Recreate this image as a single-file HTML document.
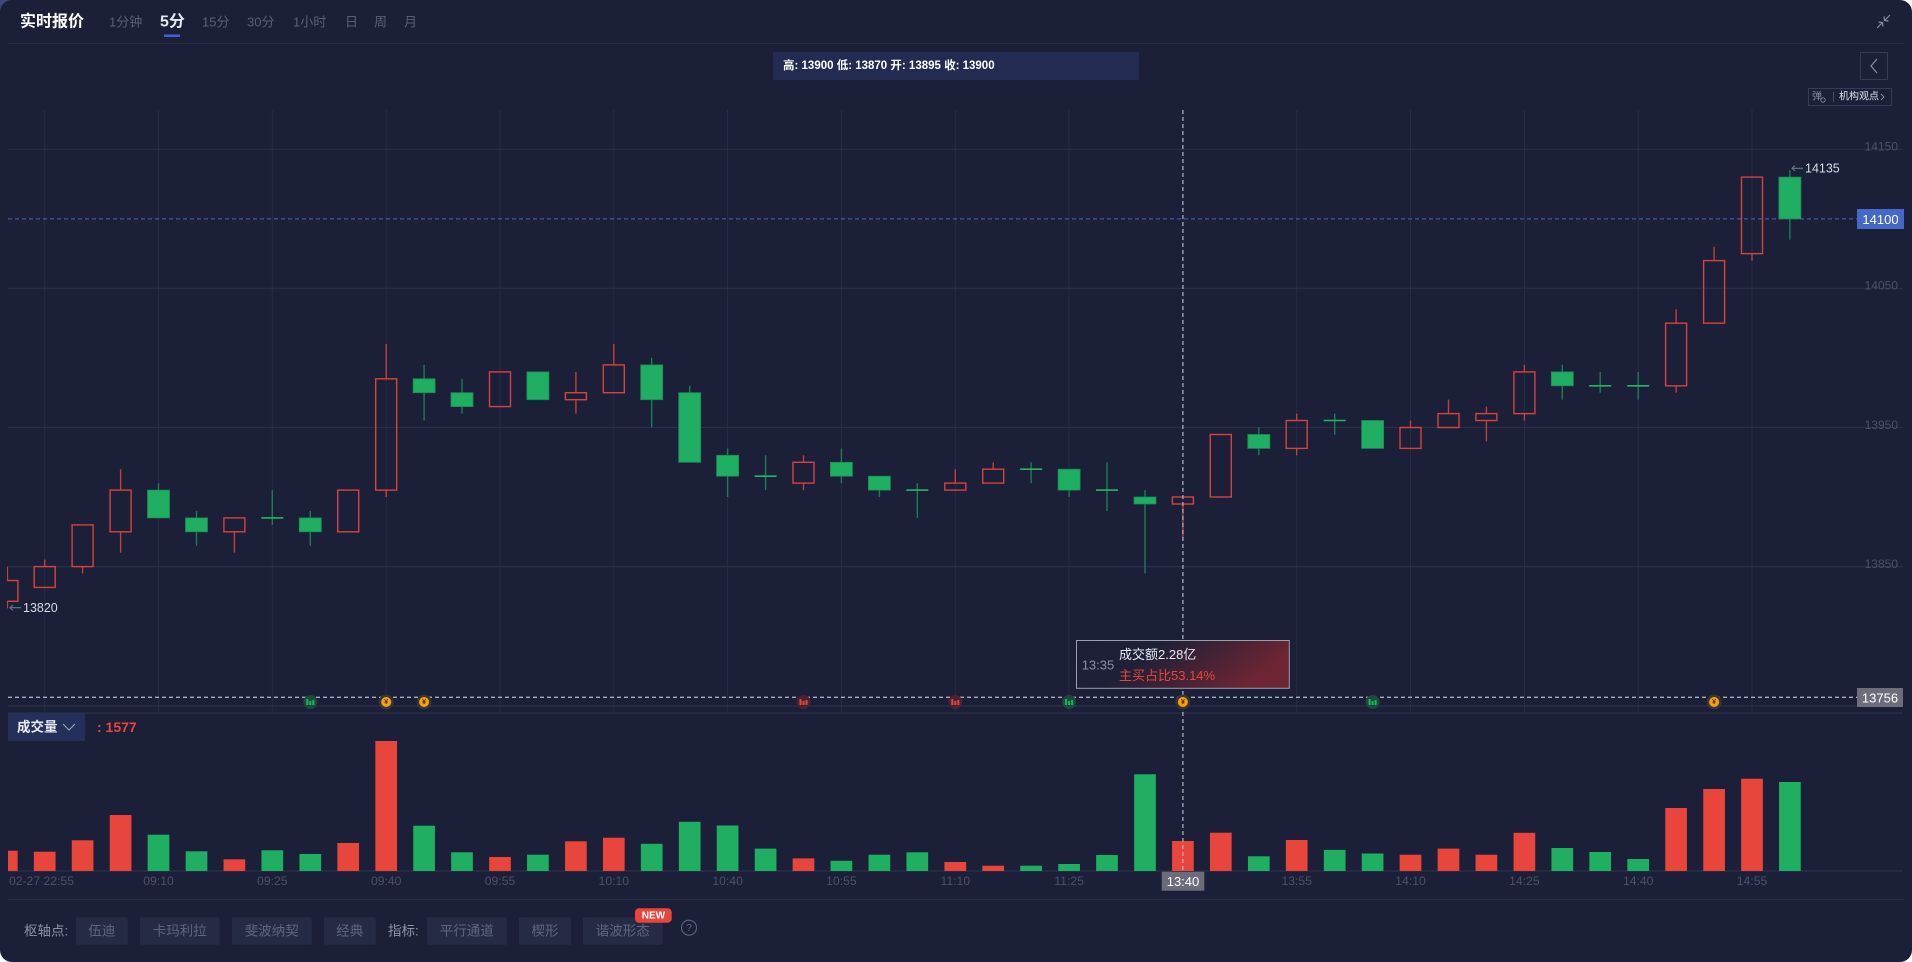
<!DOCTYPE html>
<html><head><meta charset="utf-8"><style>
html,body{margin:0;padding:0;background:#ffffff;}
body{width:1912px;height:962px;overflow:hidden;position:relative;}
.corner{position:absolute;left:0;top:0;width:40px;height:14px;background:#3d4a76;}
.panel{position:absolute;left:0;top:0;width:1912px;height:962px;background:#1b1f37;border-radius:12px;overflow:hidden;}
svg{position:absolute;left:0;top:0;}
text{font-family:"Liberation Sans","Noto Sans CJK SC",sans-serif;}
</style></head><body>
<div class="corner"></div>
<div class="panel">
<svg width="1912" height="962" viewBox="0 0 1912 962" xmlns="http://www.w3.org/2000/svg">
<defs>
<clipPath id="cm"><rect x="7" y="108" width="1850" height="606"/></clipPath>
<clipPath id="cv"><rect x="8" y="714" width="1850" height="158"/></clipPath>
<clipPath id="cx"><rect x="8" y="872" width="1900" height="20"/></clipPath>
<linearGradient id="tg" x1="0" y1="0" x2="1" y2="0.3">
<stop offset="0" stop-color="#1c1f37"/><stop offset="0.38" stop-color="#1e2037"/><stop offset="1" stop-color="#6e2533"/>
</linearGradient>
</defs>

<!-- header -->
<text x="20" y="22" dominant-baseline="central" font-size="16" font-weight="bold" fill="#ffffff">实时报价</text>
<g font-size="13" fill="#5a5f78" dominant-baseline="central">
<text x="109" y="22">1分钟</text>
<text x="202" y="22">15分</text>
<text x="247" y="22">30分</text>
<text x="293" y="22">1小时</text>
<text x="345" y="22">日</text>
<text x="374" y="22">周</text>
<text x="404" y="22">月</text>
</g>
<text x="160" y="22" dominant-baseline="central" font-size="16" font-weight="bold" fill="#e6e9f2">5分</text>
<rect x="164" y="34.5" width="16" height="2.5" fill="#3c63d4"/>
<line x1="8" y1="43.5" x2="1904" y2="43.5" stroke="#252a43" stroke-width="1"/>
<!-- collapse icon -->
<g stroke="#8a8ea0" stroke-width="1.2" fill="none">
<line x1="1890" y1="15" x2="1885" y2="20"/><polyline points="1884,16.5 1884.5,20.5 1888.5,21"/>
<line x1="1877" y1="28" x2="1882" y2="23"/><polyline points="1878.5,22 1882.5,22.5 1883,26.5"/>
</g>

<!-- OHLC box -->
<rect x="773" y="52" width="366" height="28" fill="#232b52"/>
<text x="783" y="66" dominant-baseline="central" font-size="11.5" font-weight="bold" fill="#ffffff">高: 13900 低: 13870 开: 13895 收: 13900</text>

<!-- right top buttons -->
<rect x="1860.5" y="52.5" width="27" height="27" fill="none" stroke="#363b56"/>
<polyline points="1877,59 1871,66 1877,73" fill="none" stroke="#8a8ea0" stroke-width="1.2"/>
<rect x="1808.5" y="88.5" width="83" height="17" fill="none" stroke="#363b56"/>
<text x="1812" y="97" dominant-baseline="central" font-size="10" fill="#8a8ea0">弹</text>
<circle cx="1823" cy="100" r="2.2" fill="none" stroke="#8a8ea0" stroke-width="0.8"/>
<line x1="1833.5" y1="92" x2="1833.5" y2="102" stroke="#4a4f68"/>
<text x="1839" y="97" dominant-baseline="central" font-size="10" fill="#e0e3ee">机构观点</text>
<polyline points="1881,94 1884,97 1881,100" fill="none" stroke="#8a8ea0" stroke-width="0.9"/>

<!-- grid -->
<g stroke="#272c45" stroke-width="1">
<line x1="44.7" y1="110" x2="44.7" y2="713"/>
<line x1="158.5" y1="110" x2="158.5" y2="713"/>
<line x1="272.3" y1="110" x2="272.3" y2="713"/>
<line x1="386.2" y1="110" x2="386.2" y2="713"/>
<line x1="500" y1="110" x2="500" y2="713"/>
<line x1="613.8" y1="110" x2="613.8" y2="713"/>
<line x1="727.6" y1="110" x2="727.6" y2="713"/>
<line x1="841.4" y1="110" x2="841.4" y2="713"/>
<line x1="955.3" y1="110" x2="955.3" y2="713"/>
<line x1="1069.1" y1="110" x2="1069.1" y2="713"/>
<line x1="1182.9" y1="110" x2="1182.9" y2="713"/>
<line x1="1296.7" y1="110" x2="1296.7" y2="713"/>
<line x1="1410.5" y1="110" x2="1410.5" y2="713"/>
<line x1="1524.4" y1="110" x2="1524.4" y2="713"/>
<line x1="1638.2" y1="110" x2="1638.2" y2="713"/>
<line x1="1752" y1="110" x2="1752" y2="713"/>
</g>
<g stroke="#2b3049" stroke-width="1.2">
<line x1="8" y1="149.3" x2="1903" y2="149.3"/>
<line x1="8" y1="288.3" x2="1903" y2="288.3"/>
<line x1="8" y1="427.5" x2="1903" y2="427.5"/>
<line x1="8" y1="566.6" x2="1903" y2="566.6"/>
<line x1="8" y1="706" x2="1857" y2="706"/>
<line x1="8" y1="713" x2="1903" y2="713"/>
<line x1="8" y1="871" x2="1903" y2="871"/>
<line x1="8" y1="899.3" x2="1904" y2="899.3"/>
</g>
<g font-size="12" fill="#4c5169" text-anchor="end" dominant-baseline="central">
<text x="1898" y="146.7">14150</text>
<text x="1898" y="285.7">14050</text>
<text x="1898" y="425">13950</text>
<text x="1898" y="564">13850</text>
</g>

<!-- current price line -->
<line x1="8" y1="218.9" x2="1857" y2="218.9" stroke="#3d5aa8" stroke-width="1.2" stroke-dasharray="4 3"/>

<!-- candles -->
<g clip-path="url(#cm)">
<g stroke="#c13f3d" stroke-width="1.4">
<line x1="7.4" y1="566.6" x2="7.4" y2="580.5"/><line x1="7.4" y1="601.3" x2="7.4" y2="608.3"/>
<line x1="44.7" y1="559.6" x2="44.7" y2="566.6"/>
<line x1="82.6" y1="566.6" x2="82.6" y2="573.5"/>
<line x1="120.6" y1="469.2" x2="120.6" y2="490.1"/><line x1="120.6" y1="531.8" x2="120.6" y2="552.7"/>
<line x1="234.4" y1="531.8" x2="234.4" y2="552.7"/>
<line x1="386.2" y1="344" x2="386.2" y2="378.8"/><line x1="386.2" y1="490.1" x2="386.2" y2="497"/>
<line x1="575.9" y1="371.9" x2="575.9" y2="392.7"/><line x1="575.9" y1="399.7" x2="575.9" y2="413.6"/>
<line x1="613.8" y1="344" x2="613.8" y2="364.9"/>
<line x1="803.5" y1="455.3" x2="803.5" y2="462.3"/><line x1="803.5" y1="483.1" x2="803.5" y2="490.1"/>
<line x1="955.3" y1="469.2" x2="955.3" y2="483.1"/>
<line x1="993.2" y1="462.3" x2="993.2" y2="469.2"/>
<line x1="1182.9" y1="504" x2="1182.9" y2="538.8"/>
<line x1="1296.7" y1="413.6" x2="1296.7" y2="420.5"/><line x1="1296.7" y1="448.4" x2="1296.7" y2="455.3"/>
<line x1="1410.5" y1="420.5" x2="1410.5" y2="427.5"/>
<line x1="1448.5" y1="399.7" x2="1448.5" y2="413.6"/>
<line x1="1486.4" y1="406.6" x2="1486.4" y2="413.6"/><line x1="1486.4" y1="420.5" x2="1486.4" y2="441.4"/>
<line x1="1524.4" y1="364.9" x2="1524.4" y2="371.9"/><line x1="1524.4" y1="413.6" x2="1524.4" y2="420.5"/>
<line x1="1676.1" y1="309.3" x2="1676.1" y2="323.2"/><line x1="1676.1" y1="385.8" x2="1676.1" y2="392.7"/>
<line x1="1714.1" y1="246.7" x2="1714.1" y2="260.6"/>
<line x1="1752" y1="253.6" x2="1752" y2="260.6"/>
</g>
<g fill="none" stroke="#d3443f" stroke-width="1.4">
<rect x="-3.1" y="580.5" width="21" height="20.8"/>
<rect x="34.2" y="566.6" width="21" height="20.8"/>
<rect x="72.1" y="524.9" width="21" height="41.7"/>
<rect x="110.1" y="490.1" width="21" height="41.7"/>
<rect x="223.9" y="517.9" width="21" height="13.9"/>
<rect x="337.7" y="490.1" width="21" height="41.7"/>
<rect x="375.7" y="378.8" width="21" height="111.3"/>
<rect x="489.5" y="371.9" width="21" height="34.7"/>
<rect x="565.4" y="392.7" width="21" height="7"/>
<rect x="603.3" y="364.9" width="21" height="27.8"/>
<rect x="793" y="462.3" width="21" height="20.8"/>
<rect x="944.8" y="483.1" width="21" height="7"/>
<rect x="982.7" y="469.2" width="21" height="13.9"/>
<rect x="1172.4" y="497" width="21" height="7"/>
<rect x="1210.3" y="434.5" width="21" height="62.5"/>
<rect x="1286.2" y="420.5" width="21" height="27.9"/>
<rect x="1400" y="427.5" width="21" height="20.9"/>
<rect x="1438" y="413.6" width="21" height="13.9"/>
<rect x="1475.9" y="413.6" width="21" height="6.9"/>
<rect x="1513.9" y="371.9" width="21" height="41.7"/>
<rect x="1665.6" y="323.2" width="21" height="62.6"/>
<rect x="1703.6" y="260.6" width="21" height="62.6"/>
<rect x="1741.5" y="177.1" width="21" height="76.5"/>
</g>
<g stroke="#1d7d53" stroke-width="1.4">
<line x1="158.5" y1="483.1" x2="158.5" y2="517.9"/>
<line x1="196.5" y1="511" x2="196.5" y2="545.7"/>
<line x1="272.3" y1="490.1" x2="272.3" y2="524.9"/>
<line x1="310.3" y1="511" x2="310.3" y2="545.7"/>
<line x1="424.1" y1="364.9" x2="424.1" y2="420.5"/>
<line x1="462" y1="378.8" x2="462" y2="413.6"/>
<line x1="651.7" y1="357.9" x2="651.7" y2="427.5"/>
<line x1="689.7" y1="385.8" x2="689.7" y2="462.3"/>
<line x1="727.6" y1="448.4" x2="727.6" y2="497"/>
<line x1="765.6" y1="455.3" x2="765.6" y2="490.1"/>
<line x1="841.4" y1="448.4" x2="841.4" y2="483.1"/>
<line x1="879.4" y1="476.2" x2="879.4" y2="497"/>
<line x1="917.3" y1="483.1" x2="917.3" y2="517.9"/>
<line x1="1031.1" y1="462.3" x2="1031.1" y2="483.1"/>
<line x1="1069.1" y1="469.2" x2="1069.1" y2="497"/>
<line x1="1107" y1="462.3" x2="1107" y2="511"/>
<line x1="1145" y1="490.1" x2="1145" y2="573.5"/>
<line x1="1258.8" y1="427.5" x2="1258.8" y2="455.3"/>
<line x1="1334.7" y1="413.6" x2="1334.7" y2="434.5"/>
<line x1="1562.3" y1="364.9" x2="1562.3" y2="399.7"/>
<line x1="1600.2" y1="371.9" x2="1600.2" y2="392.7"/>
<line x1="1638.2" y1="371.9" x2="1638.2" y2="399.7"/>
<line x1="1789.9" y1="170.2" x2="1789.9" y2="239.7"/>
</g>
<g fill="#1fae62" stroke="#1c8a55" stroke-width="0.8">
<rect x="147.5" y="490.1" width="22" height="27.8"/>
<rect x="185.5" y="517.9" width="22" height="13.9"/>
<rect x="299.3" y="517.9" width="22" height="13.9"/>
<rect x="413.1" y="378.8" width="22" height="13.9"/>
<rect x="451" y="392.7" width="22" height="13.9"/>
<rect x="526.9" y="371.9" width="22" height="27.8"/>
<rect x="640.7" y="364.9" width="22" height="34.8"/>
<rect x="678.7" y="392.7" width="22" height="69.6"/>
<rect x="716.6" y="455.3" width="22" height="20.9"/>
<rect x="830.4" y="462.3" width="22" height="13.9"/>
<rect x="868.4" y="476.2" width="22" height="13.9"/>
<rect x="1058.1" y="469.2" width="22" height="20.9"/>
<rect x="1134" y="497" width="22" height="7"/>
<rect x="1247.8" y="434.5" width="22" height="13.9"/>
<rect x="1361.6" y="420.5" width="22" height="27.9"/>
<rect x="1551.3" y="371.9" width="22" height="13.9"/>
<rect x="1778.9" y="177.1" width="22" height="41.8"/>
</g>
<g stroke="#22b566" stroke-width="1.6">
<line x1="261.3" y1="517.9" x2="283.3" y2="517.9"/>
<line x1="754.6" y1="476.2" x2="776.6" y2="476.2"/>
<line x1="906.3" y1="490.1" x2="928.3" y2="490.1"/>
<line x1="1020.1" y1="469.2" x2="1042.1" y2="469.2"/>
<line x1="1096" y1="490.1" x2="1118" y2="490.1"/>
<line x1="1323.7" y1="420.5" x2="1345.7" y2="420.5"/>
<line x1="1589.2" y1="385.8" x2="1611.2" y2="385.8"/>
<line x1="1627.2" y1="385.8" x2="1649.2" y2="385.8"/>
</g>
</g>

<!-- extreme labels -->
<g stroke="#6f7590" stroke-width="1.1" fill="none">
<line x1="10" y1="607.7" x2="21" y2="607.7"/><polyline points="13,605 10,607.7 13,610.4"/>
<line x1="1792" y1="168.3" x2="1803" y2="168.3"/><polyline points="1795,165.6 1792,168.3 1795,171"/>
</g>
<text x="23" y="608" dominant-baseline="central" font-size="12.5" fill="#d8dbe5">13820</text>
<text x="1805" y="168.5" dominant-baseline="central" font-size="12.5" fill="#d8dbe5">14135</text>

<!-- price labels -->
<rect x="1857" y="209" width="47" height="20" fill="#4467c8"/>
<text x="1880.5" y="219.3" text-anchor="middle" dominant-baseline="central" font-size="13" fill="#ffffff">14100</text>

<!-- crosshair horizontal -->
<line x1="8" y1="697.3" x2="1857" y2="697.3" stroke="#a9acb9" stroke-width="1.3" stroke-dasharray="4 3"/>
<rect x="1857" y="688" width="46" height="19" fill="#6b6e7a"/>
<text x="1880" y="697.8" text-anchor="middle" dominant-baseline="central" font-size="13" fill="#ffffff">13756</text>

<!-- volume legend -->
<rect x="8" y="713" width="77" height="28" fill="#25305a"/>
<text x="17" y="727" dominant-baseline="central" font-size="13.5" font-weight="bold" fill="#e8eaf2">成交量</text>
<polyline points="63,724 69,730 75,724" fill="none" stroke="#a0a4b8" stroke-width="1.1"/>
<text x="97" y="727" dominant-baseline="central" font-size="14" font-weight="bold" fill="#e8453c">: 1577</text>

<!-- volume bars -->
<g clip-path="url(#cv)">
<g fill="#e8453c">
<rect x="-4.05" y="850.7" width="21.7" height="20.3"/>
<rect x="33.85" y="851.7" width="21.7" height="19.3"/>
<rect x="71.75" y="840.3" width="21.7" height="30.7"/>
<rect x="109.75" y="815" width="21.7" height="56"/>
<rect x="223.55" y="859.3" width="21.7" height="11.7"/>
<rect x="337.35" y="843" width="21.7" height="28"/>
<rect x="375.35" y="741" width="21.7" height="130"/>
<rect x="489.15" y="857" width="21.7" height="14"/>
<rect x="565.05" y="841.3" width="21.7" height="29.7"/>
<rect x="602.95" y="837.7" width="21.7" height="33.3"/>
<rect x="792.65" y="858.4" width="21.7" height="12.6"/>
<rect x="944.45" y="862" width="21.7" height="9"/>
<rect x="982.35" y="865.7" width="21.7" height="5.3"/>
<rect x="1172.05" y="841" width="21.7" height="30"/>
<rect x="1209.95" y="832.7" width="21.7" height="38.3"/>
<rect x="1285.85" y="840" width="21.7" height="31"/>
<rect x="1399.65" y="854.7" width="21.7" height="16.3"/>
<rect x="1437.65" y="848.6" width="21.7" height="22.4"/>
<rect x="1475.55" y="854.7" width="21.7" height="16.3"/>
<rect x="1513.55" y="832.8" width="21.7" height="38.2"/>
<rect x="1665.25" y="808" width="21.7" height="63"/>
<rect x="1703.25" y="789" width="21.7" height="82"/>
<rect x="1741.15" y="778.7" width="21.7" height="92.3"/>
</g>
<g fill="#1fae62">
<rect x="147.65" y="834.7" width="21.7" height="36.3"/>
<rect x="185.65" y="851.3" width="21.7" height="19.7"/>
<rect x="261.45" y="850.3" width="21.7" height="20.7"/>
<rect x="299.45" y="854" width="21.7" height="17"/>
<rect x="413.25" y="825.7" width="21.7" height="45.3"/>
<rect x="451.15" y="852.3" width="21.7" height="18.7"/>
<rect x="527.05" y="854.7" width="21.7" height="16.3"/>
<rect x="640.85" y="843.8" width="21.7" height="27.2"/>
<rect x="678.85" y="821.8" width="21.7" height="49.2"/>
<rect x="716.75" y="825.5" width="21.7" height="45.5"/>
<rect x="754.75" y="848.6" width="21.7" height="22.4"/>
<rect x="830.55" y="860.8" width="21.7" height="10.2"/>
<rect x="868.55" y="854.7" width="21.7" height="16.3"/>
<rect x="906.45" y="852.3" width="21.7" height="18.7"/>
<rect x="1020.25" y="865.7" width="21.7" height="5.3"/>
<rect x="1058.25" y="864" width="21.7" height="7"/>
<rect x="1096.15" y="855" width="21.7" height="16"/>
<rect x="1134.15" y="774.3" width="21.7" height="96.7"/>
<rect x="1247.95" y="856.3" width="21.7" height="14.7"/>
<rect x="1323.85" y="849.9" width="21.7" height="21.1"/>
<rect x="1361.75" y="853.5" width="21.7" height="17.5"/>
<rect x="1551.45" y="848" width="21.7" height="23"/>
<rect x="1589.35" y="852" width="21.7" height="19"/>
<rect x="1627.35" y="859" width="21.7" height="12"/>
<rect x="1779.05" y="782" width="21.7" height="89"/>
</g>
</g>

<!-- crosshair vertical -->
<line x1="1182.9" y1="110" x2="1182.9" y2="872" stroke="#a9acb9" stroke-width="1.3" stroke-dasharray="4 3"/>

<!-- markers -->
<g>
<circle cx="310.3" cy="702" r="7" fill="#1c4a3d"/><rect x="306.3" y="699" width="2" height="6" fill="#1fb35f"/><rect x="309.3" y="701" width="2" height="4" fill="#1fb35f"/><rect x="312.3" y="700" width="2" height="5" fill="#1fb35f"/>
<circle cx="1069.1" cy="702" r="7" fill="#1c4a3d"/><rect x="1065.1" y="699" width="2" height="6" fill="#1fb35f"/><rect x="1068.1" y="701" width="2" height="4" fill="#1fb35f"/><rect x="1071.1" y="700" width="2" height="5" fill="#1fb35f"/>
<circle cx="1372.6" cy="702" r="7" fill="#1c4a3d"/><rect x="1368.6" y="699" width="2" height="6" fill="#1fb35f"/><rect x="1371.6" y="701" width="2" height="4" fill="#1fb35f"/><rect x="1374.6" y="700" width="2" height="5" fill="#1fb35f"/>
<circle cx="803.5" cy="702" r="7" fill="#4a2330"/><rect x="799.5" y="699" width="2" height="6" fill="#e8453c"/><rect x="802.5" y="701" width="2" height="4" fill="#e8453c"/><rect x="805.5" y="700" width="2" height="5" fill="#e8453c"/>
<circle cx="955.3" cy="702" r="7" fill="#4a2330"/><rect x="951.3" y="699" width="2" height="6" fill="#e8453c"/><rect x="954.3" y="701" width="2" height="4" fill="#e8453c"/><rect x="957.3" y="700" width="2" height="5" fill="#e8453c"/>
<circle cx="386.2" cy="702" r="7.5" fill="#3a3535"/><circle cx="386.2" cy="702" r="5" fill="#f2a20c"/>
<circle cx="424.1" cy="702" r="7.5" fill="#3a3535"/><circle cx="424.1" cy="702" r="5" fill="#f2a20c"/>
<circle cx="1182.9" cy="702" r="7.5" fill="#3a3535"/><circle cx="1182.9" cy="702" r="5" fill="#f2a20c"/>
<circle cx="1714.1" cy="702" r="7.5" fill="#3a3535"/><circle cx="1714.1" cy="702" r="5" fill="#f2a20c"/>
<g font-size="7" font-weight="bold" fill="#4a2e00" text-anchor="middle" dominant-baseline="central">
<text x="386.2" y="702.5">¥</text><text x="424.1" y="702.5">¥</text><text x="1182.9" y="702.5">¥</text><text x="1714.1" y="702.5">¥</text>
</g>
</g>

<!-- tooltip (above crosshair) -->
<rect x="1076.5" y="640.5" width="212.8" height="47.8" fill="url(#tg)" stroke="#9b9eab" stroke-width="1"/>
<text x="1081.7" y="665" dominant-baseline="central" font-size="13" fill="#8a8fa6">13:35</text>
<text x="1119" y="654.3" dominant-baseline="central" font-size="13" fill="#e8eaf2">成交额2.28亿</text>
<text x="1119" y="675.7" dominant-baseline="central" font-size="13" fill="#e8453c">主买占比53.14%</text>

<!-- x axis labels -->
<g font-size="12.2" fill="#4c5169" text-anchor="middle" dominant-baseline="central" clip-path="url(#cx)">
<text x="74" y="881" text-anchor="end">02-27 22:55</text>
<text x="158.5" y="881">09:10</text>
<text x="272.3" y="881">09:25</text>
<text x="386.2" y="881">09:40</text>
<text x="500" y="881">09:55</text>
<text x="613.8" y="881">10:10</text>
<text x="727.6" y="881">10:40</text>
<text x="841.4" y="881">10:55</text>
<text x="955.3" y="881">11:10</text>
<text x="1069.1" y="881">11:25</text>
<text x="1296.7" y="881">13:55</text>
<text x="1410.5" y="881">14:10</text>
<text x="1524.4" y="881">14:25</text>
<text x="1638.2" y="881">14:40</text>
<text x="1752" y="881">14:55</text>
</g>
<rect x="1161.7" y="871.7" width="42.6" height="19" fill="#6a6d79"/>
<text x="1183" y="881.5" text-anchor="middle" dominant-baseline="central" font-size="13" fill="#ffffff">13:40</text>

<!-- toolbar -->
<g fill="#262b45">
<rect x="76" y="917.3" width="51.7" height="27.4" rx="2"/>
<rect x="140" y="917.3" width="79.7" height="27.4" rx="2"/>
<rect x="232" y="917.3" width="79.7" height="27.4" rx="2"/>
<rect x="324" y="917.3" width="51.7" height="27.4" rx="2"/>
<rect x="427" y="917.3" width="79.7" height="27.4" rx="2"/>
<rect x="519" y="917.3" width="52" height="27.4" rx="2"/>
<rect x="583" y="917.3" width="79.7" height="27.4" rx="2"/>
</g>
<g font-size="13.5" dominant-baseline="central">
<text x="24" y="931" fill="#8f93a8">枢轴点:</text>
<text x="388" y="931" fill="#8f93a8">指标:</text>
<g fill="#5f6480" text-anchor="middle">
<text x="101.8" y="931">伍迪</text>
<text x="179.8" y="931">卡玛利拉</text>
<text x="271.8" y="931">斐波纳契</text>
<text x="349.8" y="931">经典</text>
<text x="466.8" y="931">平行通道</text>
<text x="545" y="931">楔形</text>
<text x="622.8" y="931">谐波形态</text>
</g>
</g>
<rect x="635" y="908.3" width="36.7" height="14.4" rx="4" fill="#e8453c"/>
<text x="653.4" y="915.8" text-anchor="middle" dominant-baseline="central" font-size="10" font-weight="bold" fill="#ffffff">NEW</text>
<circle cx="689" cy="927.7" r="7.5" fill="none" stroke="#5f6480" stroke-width="1.1"/>
<text x="689" y="928" text-anchor="middle" dominant-baseline="central" font-size="10.5" fill="#5f6480">?</text>
</svg>
</div>
</body></html>
